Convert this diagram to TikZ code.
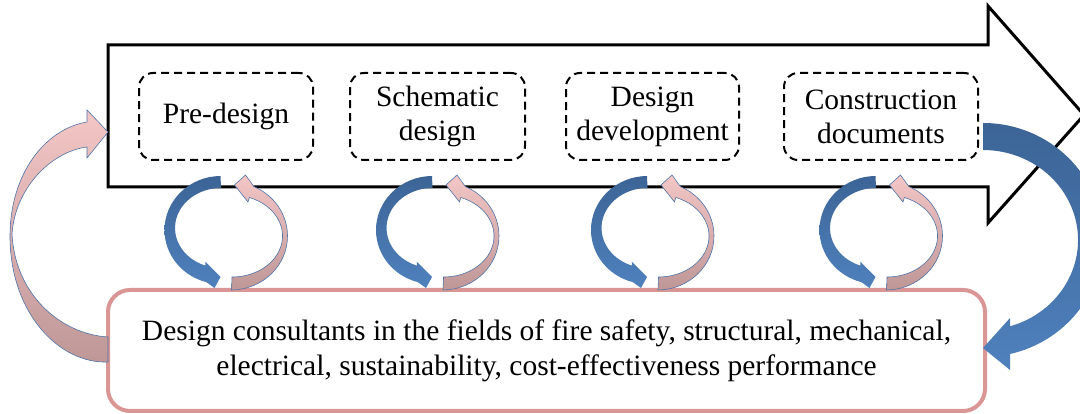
\documentclass[tikz,border=0pt]{standalone}
\usepackage{fontspec}
\setmainfont{Liberation Serif}
\usetikzlibrary{positioning}
\definecolor{bluedark}{HTML}{3C6496}
\definecolor{bluelite}{HTML}{4F81BD}
\definecolor{pinklite}{HTML}{F4C6C6}
\definecolor{pinkdark}{HTML}{BF9797}
\definecolor{rimpink}{HTML}{D99694}
\definecolor{edgeblue}{HTML}{4F74A8}
\tikzset{
  stage/.style={
    rectangle, rounded corners=14pt,
    minimum width=174pt, minimum height=87pt,
    align=center, inner sep=0pt,
    font=\fontsize{29.5}{34}\selectfont,
    draw, line width=2pt, dash pattern=on 8pt off 5pt
  },
  consult/.style={
    rectangle, rounded corners=22pt,
    minimum width=877pt, minimum height=121pt,
    align=center, inner sep=0pt, fill=white,
    font=\fontsize{29.5}{35}\selectfont,
    draw=rimpink, line width=4pt
  },
  bigarrow/.style = {draw, line width=3pt, line join=miter},
  bluearr/.style  = {top color=bluedark, bottom color=bluelite},
  pinkarr/.style  = {top color=pinklite, bottom color=pinkdark,
                     draw=edgeblue, line width=0.6pt},
}
% pair of circular arrows under one stage
\newcommand\cyclepair[1]{%
  \begin{scope}[shift={(#1 |- 0,181)}]
    \path[bluearr] (-5.5,57)
      arc[start angle=90.5, end angle=255, x radius=56.5, y radius=54]
      -- (-11.5,-55) -- (-5.5,-44) -- (-20.5,-29) -- (-20.7,-32.6)
      arc[start angle=250, end angle=90, x radius=46, y radius=40]
      -- cycle;
    \path[pinkarr] (5.5,-57)
      arc[start angle=270.5, end angle=426, x radius=56.5, y radius=54]
      -- (19.5,58) -- (8.5,48) -- (22,31) -- (23.3,35.5)
      arc[start angle=70, end angle=-90, x radius=50.5, y radius=41]
      -- cycle;
  \end{scope}}

\begin{document}
\begin{tikzpicture}[x=1pt, y=1pt]
  \useasboundingbox (0,0) rectangle (1080,414);
  \clip (0,0) rectangle (1080,414);

  % ── process arrow ──────────────────────────────────────────────
  \draw[bigarrow] (108,227) -- (108,369) -- (988,369) -- (988,408)
    -- (1084,299) -- (988,191) -- (988,227) -- cycle;

  % ── design stages ──────────────────────────────────────────────
  \node[stage]                                      (pre) at (226,297.5) {Pre-design};
  \node[stage, minimum width=175pt, right=35pt of pre] (sch) {Schematic\\design};
  \node[stage, minimum width=173pt, right=39pt of sch] (dev) {Design\\development};
  \node[stage, minimum width=194pt, right=43pt of dev] (con) {Construction\\documents};

  % ── consultants ────────────────────────────────────────────────
  \node[consult] (cons) at (546.5,63.5)
    {Design consultants in the fields of fire safety, structural, mechanical,\\
     electrical, sustainability, cost-effectiveness performance};

  % ── stage <-> consultants loops ────────────────────────────────
  \cyclepair{pre}
  \cyclepair{sch}
  \cyclepair{dev}
  \cyclepair{con}

  % ── consultants -> start of process ────────────────────────────
  \path[pinkarr] (108,52) .. controls (60,50) and (10,100) .. (10,178)
    .. controls (10,240) and (45,285) .. (87,292)
    -- (87,304) -- (108,282) -- (87,256) -- (87,267)
    .. controls (50,262) and (15,225) .. (12,180)
    .. controls (15,120) and (60,80) .. (108,77) -- cycle;

  % ── end of process -> consultants ──────────────────────────────
  \path[bluearr] (983,291)
    arc[start angle=90, end angle=-77, x radius=120, y radius=117]
    -- (1010,44) -- (983,66) -- (1010,96) -- (1010,87.7)
    arc[start angle=-73.5, end angle=90, x radius=95, y radius=90]
    -- cycle;

\end{tikzpicture}
\end{document}
